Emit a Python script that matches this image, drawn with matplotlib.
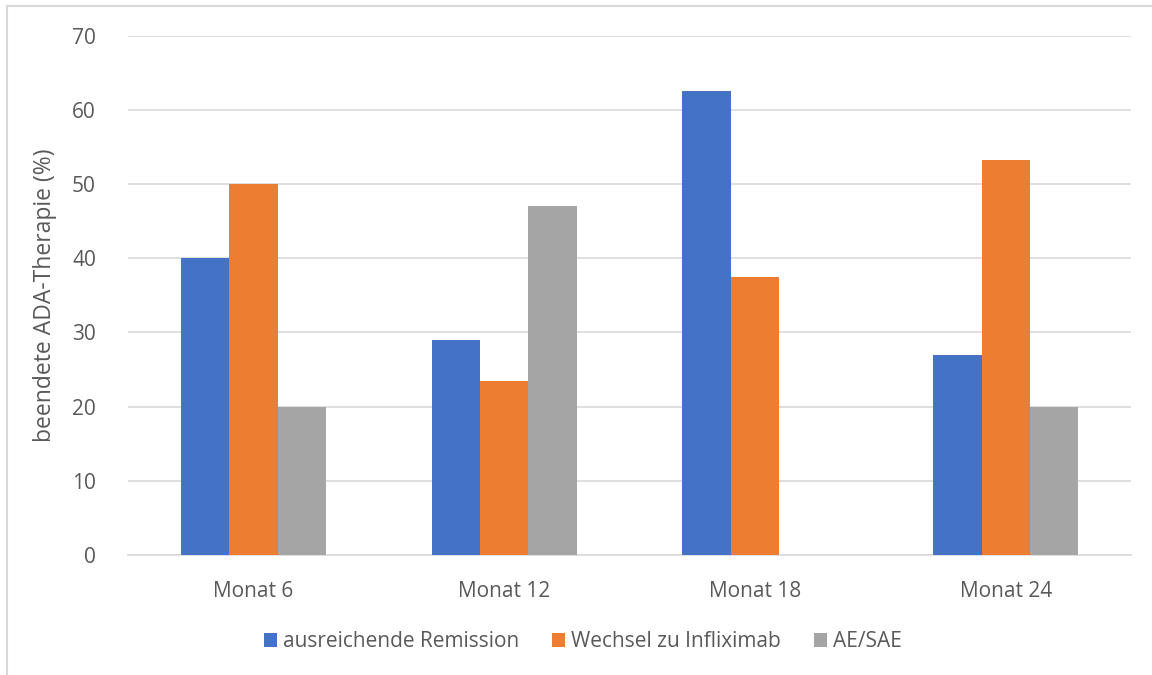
from matplotlib import pyplot as plt
from matplotlib.lines import Line2D
import numpy as np

plt.rcParams['font.family'] = ['Open Sans', 'DejaVu Sans']

categories = ['Monat 6', 'Monat 12', 'Monat 18', 'Monat 24']
series_names = ['ausreichende Remission', 'Wechsel zu Infliximab', 'AE/SAE']
remission = [40, 29, 62.5, 27]
infliximab = [50, 23.5, 37.5, 53.3]
ae_sae = [20, 47, 0, 20]
colors = ['#4472C4', '#ED7D31', '#A5A5A5']
text_color = '#595959'

fig = plt.figure(figsize=(11.52, 6.75), dpi=100)
ax = fig.add_axes((0.111, 0.178, 0.871, 0.769))

x = np.arange(len(categories))
width = 0.193
for i, (vals, name) in enumerate(zip([remission, infliximab, ae_sae], series_names)):
    ax.bar(x + (i - 1) * width, vals, width=width, color=colors[i], label=name, zorder=3)

ax.set_xlim(-0.5, 3.5)
ax.set_ylim(0, 70)
ax.set_yticks(range(0, 71, 10))
ax.set_xticks(x)
ax.set_xticklabels(categories)
ax.yaxis.grid(True, color='#D9D9D9', lw=1.2, zorder=0)
for s in ['top', 'right', 'left']:
    ax.spines[s].set_visible(False)
ax.spines['bottom'].set_color('#D9D9D9')
ax.spines['bottom'].set_linewidth(1.2)
ax.tick_params(axis='both', length=0, labelsize=15, labelcolor=text_color)
ax.tick_params(axis='y', pad=23)
ax.tick_params(axis='x', pad=19)
ax.set_ylabel('beendete ADA-Therapie (%)', fontsize=16.5, color=text_color, labelpad=11)

fig.legend(loc='center', bbox_to_anchor=(0.506, 0.049), ncol=3, frameon=False,
           fontsize=15, labelcolor=text_color, handlelength=0.6, handleheight=0.6,
           handletextpad=0.3, columnspacing=1.6)

# Rahmen links und oben
fig.add_artist(Line2D([0.0065, 0.0065], [0, 0.991], color='#D9D9D9', lw=1.5))
fig.add_artist(Line2D([0.0065, 1], [0.991, 0.991], color='#D9D9D9', lw=1.5))

fig.savefig('out.png', dpi=100)
